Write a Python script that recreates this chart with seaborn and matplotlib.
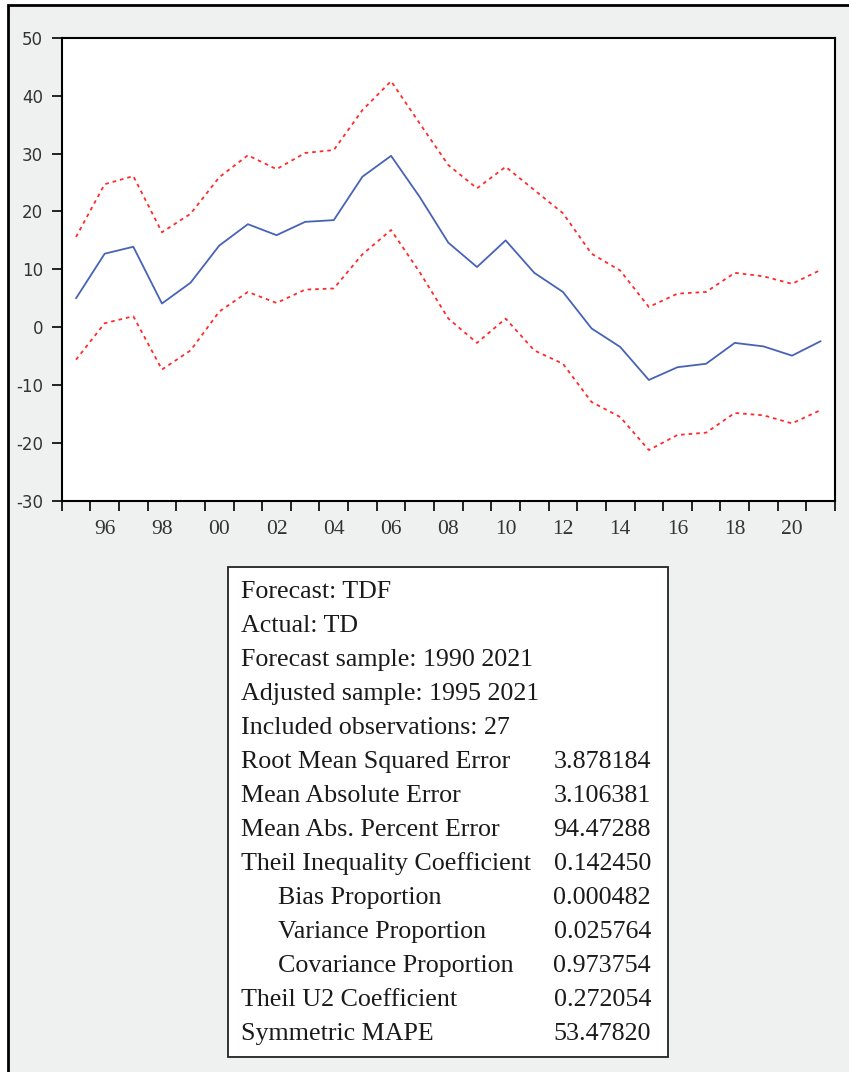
import numpy as np
import pandas as pd
import matplotlib
matplotlib.use("Agg")
import matplotlib.pyplot as plt
from matplotlib.patches import Rectangle
import seaborn as sns

# Forecast series and +/- 2 S.E. bands
years = list(range(1995, 2022))
forecast = [5.0, 12.7, 13.9, 4.1, 7.7, 14.1, 17.8, 15.9, 18.2, 18.5, 26.0, 29.6,
            22.5, 14.6, 10.4, 15.0, 9.4, 6.1, -0.2, -3.4, -9.1, -6.9, -6.3,
            -2.7, -3.3, -4.9, -2.4]
upper = [15.6, 24.7, 26.1, 16.4, 19.6, 25.9, 29.7, 27.3, 30.1, 30.6, 37.5, 42.5,
         35.2, 28.0, 24.0, 27.7, 23.7, 19.7, 12.7, 9.8, 3.5, 5.8, 6.1,
         9.4, 8.8, 7.5, 9.9]
lower = [-5.6, 0.7, 1.9, -7.3, -4.0, 2.7, 6.1, 4.2, 6.5, 6.7, 12.6, 16.8,
         9.5, 1.5, -2.7, 1.5, -4.0, -6.3, -12.9, -15.5, -21.2, -18.6, -18.2,
         -14.8, -15.2, -16.6, -14.3]

stat_labels = ["Forecast: TDF", "Actual: TD", "Forecast sample: 1990 2021",
               "Adjusted sample: 1995 2021", "Included observations: 27",
               "Root Mean Squared Error", "Mean Absolute Error",
               "Mean Abs. Percent Error", "Theil Inequality Coefficient",
               "Bias Proportion", "Variance Proportion", "Covariance Proportion",
               "Theil U2 Coefficient", "Symmetric MAPE"]
stat_values = ["", "", "", "", "", "3.878184", "3.106381", "94.47288", "0.142450",
               "0.000482", "0.025764", "0.973754", "0.272054", "53.47820"]
indented = ["Bias Proportion", "Variance Proportion", "Covariance Proportion"]

df = pd.DataFrame({"year": years, "forecast": forecast, "upper": upper, "lower": lower})

sns.set_style("white")
W, H = 849, 1072
fig = plt.figure(figsize=(W / 100, H / 100), dpi=100)
fig.patch.set_facecolor("white")

# grey panel with a black border (cut by the right/bottom edges)
fig.patches.append(Rectangle((8 / W, -0.02), 1.0, 1 - 5 / H + 0.02, transform=fig.transFigure,
                             facecolor="#eff0f0", edgecolor="black", lw=2, zorder=-5))

ax = fig.add_axes([61.7 / W, 1 - 501 / H, (835 - 61.7) / W, (501 - 37.7) / H])
ax.set_zorder(3)
ax.set_facecolor("white")

sns.lineplot(data=df, x="year", y="upper", ax=ax, color="#ff2a2a", lw=1.3,
             linestyle=(0, (2, 2.2)))
sns.lineplot(data=df, x="year", y="lower", ax=ax, color="#ff2a2a", lw=1.3,
             linestyle=(0, (2, 2.2)))
sns.lineplot(data=df, x="year", y="forecast", ax=ax, color="#4863b6", lw=1.3)

ax.set_xlim(1994.5, 2021.5)
ax.set_ylim(-30, 50)
ax.set_xlabel("")
ax.set_ylabel("")

# year boundaries as tick marks, labels centred on the even years
ax.set_xticks(np.arange(1994.5, 2022, 1.0))
ax.set_xticklabels([])
lab_years = list(range(1996, 2021, 2))
ax.set_xticks(lab_years, minor=True)
ax.set_xticklabels([f"{y % 100:02d}" for y in lab_years], minor=True,
                   family="Liberation Serif", fontsize=15.5, color="#333333")
ax.tick_params(axis="x", which="major", direction="out", length=7, width=1.2,
               color="black", bottom=True)
ax.tick_params(axis="x", which="minor", length=0, pad=14, bottom=True)

ax.set_yticks(range(-30, 51, 10))
ax.set_yticklabels([str(v) for v in range(-30, 51, 10)], family="DejaVu Sans",
                   fontsize=12, color="#333333")
ax.tick_params(axis="y", direction="out", length=7, width=1.2, color="black", left=True,
               pad=6.5)

for side in ["left", "bottom", "top", "right"]:
    ax.spines[side].set_color("black")
    ax.spines[side].set_linewidth(1.5)

# statistics box
bx0, by0, bx1, by1 = 228, 567, 668, 1057
fig.patches.append(Rectangle((bx0 / W, 1 - by1 / H), (bx1 - bx0) / W, (by1 - by0) / H,
                             transform=fig.transFigure, facecolor="white",
                             edgecolor="#222222", lw=1.3, zorder=1))
for i, (lab, val) in enumerate(zip(stat_labels, stat_values)):
    ypx = 592 + i * 34.0
    xpx = 278 if lab in indented else 241
    fig.text(xpx / W, 1 - ypx / H, lab, family="Liberation Serif", fontsize=18.7,
             color="#1a1a1a", va="center", ha="left", zorder=2)
    if val:
        fig.text(651 / W, 1 - ypx / H, val, family="Liberation Serif", fontsize=18.7,
                 color="#1a1a1a", va="center", ha="right", zorder=2)

fig.savefig("out.png", dpi=100)
